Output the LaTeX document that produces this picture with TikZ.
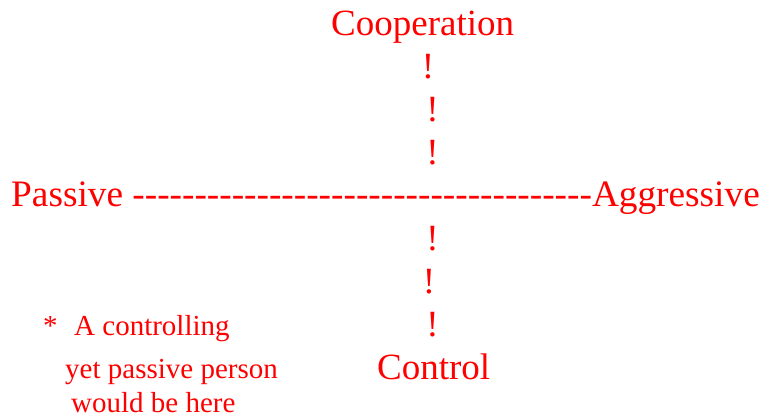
\documentclass[tikz,border=0pt]{standalone}
\usepackage{fontspec}
\setmainfont{Liberation Serif}[Ligatures=TeXOff]
\begin{document}
\begin{tikzpicture}[x=1pt,y=-1pt,
  lbl/.style={text=red,inner sep=0pt,anchor=base west,font=\fontsize{37}{44}\selectfont},
  note/.style={text=red,inner sep=0pt,anchor=base west,font=\fontsize{29}{34}\selectfont},
  bang/.style={text=red,inner sep=0pt,anchor=base,font=\fontsize{37}{44}\selectfont}]
\useasboundingbox (0,0) rectangle (762,418);
\node[lbl] (coop) at (331,35) {Cooperation};
\node[bang] (b1) at (428,78) {!};
\node[bang] (b2) at (432.5,121) {!};
\node[bang] (b3) at (432.5,164) {!};
\node[lbl,font=\fontsize{37.3}{44}\selectfont] (axis) at (11,206) {Passive -------------------------------------Aggressive};
\node[bang] (b4) at (432.5,250) {!};
\node[bang] (b5) at (429,293) {!};
\node[bang] (b6) at (432.5,336) {!};
\node[lbl] (ctrl) at (377,379) {Control};
\node[note] (star) at (43,335) {*};
\node[note] (n1) at (74,335) {A controlling};
\node[note] (n2) at (65,378) {yet passive person};
\node[note] (n3) at (71,412) {would be here};
\end{tikzpicture}
\end{document}
